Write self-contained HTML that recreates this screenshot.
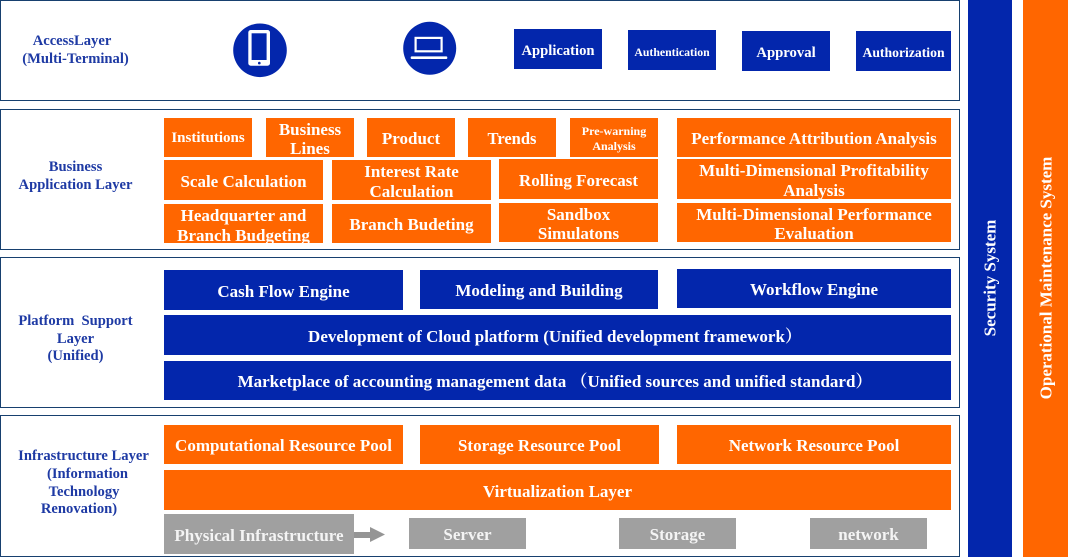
<!DOCTYPE html>
<html><head><meta charset="utf-8">
<style>
*{margin:0;padding:0;box-sizing:border-box}
html,body{width:1068px;height:558px;background:#fff;overflow:hidden}
body{position:relative;font-family:"Liberation Serif","Noto Serif CJK SC",serif;font-weight:bold}
.fr{position:absolute;border:1.6px solid #17406f;background:#fff}
.b{position:absolute;display:flex;align-items:center;justify-content:center;text-align:center;color:#fff;white-space:nowrap;padding-top:3px}
.o{background:#ff6600;font-size:17px;line-height:19.5px}
.bl{background:#0326ac;font-size:17px;line-height:20px}
.g{background:#a0a0a0;color:#f4f4f4;font-size:17px}
.t{position:absolute;white-space:nowrap;transform:translate(-50%,-50%);line-height:1;color:#1e3aa4;font-size:14.6px;padding-top:1px}
.v{position:absolute;white-space:nowrap;transform:translate(-50%,-50%) rotate(-90deg);line-height:1;color:#fff;font-size:17px}
</style></head>
<body>
<!-- side bars -->
<div style="position:absolute;left:968px;top:0;width:44px;height:557px;background:#0326ac"></div>
<div style="position:absolute;left:1023px;top:0;width:45px;height:557px;background:#ff6600"></div>
<div class="v" style="left:990px;top:278px">Security System</div>
<div class="v" style="left:1046px;top:278px">Operational Maintenance System</div>

<!-- frames -->
<div class="fr" style="left:0;top:0;width:960px;height:101px"></div>
<div class="fr" style="left:0;top:109px;width:960px;height:141px"></div>
<div class="fr" style="left:0;top:257px;width:960px;height:151px"></div>
<div class="fr" style="left:0;top:415px;width:960px;height:142px"></div>

<!-- Access layer -->
<div class="t" style="left:72px;top:41px">AccessLayer</div>
<div class="t" style="left:75.5px;top:59px">(Multi-Terminal)</div>
<svg style="position:absolute;left:0;top:0" width="960" height="100">
 <circle cx="260" cy="50.3" r="26.8" fill="#0326ac"/>
 <rect x="248.3" y="30" width="21.7" height="35.7" rx="2.5" fill="#fff"/>
 <rect x="251.6" y="33.3" width="15" height="26.7" fill="#0326ac"/>
 <circle cx="259.3" cy="63.1" r="1.3" fill="#0326ac"/>
 <circle cx="429.7" cy="48.3" r="26.5" fill="#0326ac"/>
 <rect x="415.6" y="37.9" width="26" height="13.4" fill="none" stroke="#fff" stroke-width="2.2"/>
 <rect x="410.7" y="56.4" width="36.6" height="2.6" rx="1" fill="#fff"/>
</svg>
<div class="b bl" style="left:514px;top:29px;width:88px;height:40px;font-size:14.6px">Application</div>
<div class="b bl" style="left:628px;top:30px;width:88px;height:40px;font-size:11.8px">Authentication</div>
<div class="b bl" style="left:742px;top:31px;width:88px;height:40px;font-size:14.7px">Approval</div>
<div class="b bl" style="left:856px;top:31px;width:95px;height:40px;font-size:13.7px">Authorization</div>

<!-- Business application layer -->
<div class="t" style="left:75.5px;top:167px">Business</div>
<div class="t" style="left:75.5px;top:185px">Application Layer</div>
<div class="b o" style="left:164px;top:118px;width:88px;height:39px;font-size:15px">Institutions</div>
<div class="b o" style="left:266px;top:118px;width:88px;height:39px">Business<br>Lines</div>
<div class="b o" style="left:367px;top:118px;width:88px;height:39px">Product</div>
<div class="b o" style="left:468px;top:118px;width:88px;height:39px;font-size:16.5px">Trends</div>
<div class="b o" style="left:570px;top:118px;width:88px;height:39px;font-size:12px;line-height:15px">Pre-warning<br>Analysis</div>
<div class="b o" style="left:677px;top:118px;width:274px;height:39px">Performance Attribution Analysis</div>

<div class="b o" style="left:164px;top:160px;width:159px;height:40px">Scale Calculation</div>
<div class="b o" style="left:332px;top:160px;width:159px;height:40px">Interest Rate<br>Calculation</div>
<div class="b o" style="left:499px;top:159px;width:159px;height:40px">Rolling Forecast</div>
<div class="b o" style="left:677px;top:159px;width:274px;height:40px">Multi-Dimensional Profitability<br>Analysis</div>

<div class="b o" style="left:164px;top:204px;width:159px;height:39px;overflow:hidden;align-items:flex-start;padding-top:2px">Headquarter and<br>Branch Budgeting</div>
<div class="b o" style="left:332px;top:204px;width:159px;height:39px">Branch Budeting</div>
<div class="b o" style="left:499px;top:203px;width:159px;height:39px">Sandbox<br>Simulatons</div>
<div class="b o" style="left:677px;top:203px;width:274px;height:39px">Multi-Dimensional Performance<br>Evaluation</div>

<!-- Platform support layer -->
<div class="t" style="left:75.5px;top:320.5px">Platform&nbsp; Support</div>
<div class="t" style="left:75.5px;top:338.5px">Layer</div>
<div class="t" style="left:75.5px;top:355.5px">(Unified)</div>
<div class="b bl" style="left:164px;top:270px;width:239px;height:40px">Cash Flow Engine</div>
<div class="b bl" style="left:420px;top:270px;width:238px;height:39px">Modeling and Building</div>
<div class="b bl" style="left:677px;top:269px;width:274px;height:39px">Workflow Engine</div>
<div class="b bl" style="left:164px;top:315px;width:787px;height:40px"><span style="margin-left:-5px">Development of Cloud platform (Unified development framework）</span></div>
<div class="b bl" style="left:164px;top:361px;width:787px;height:39px"><span style="margin-left:-5px">Marketplace of accounting management data （Unified sources and unified standard）</span></div>

<!-- Infrastructure layer -->
<div class="t" style="left:83.5px;top:456px">Infrastructure Layer</div>
<div class="t" style="left:87.5px;top:474px">(Information</div>
<div class="t" style="left:84px;top:491.5px">Technology</div>
<div class="t" style="left:79px;top:509px">Renovation)</div>
<div class="b o" style="left:164px;top:425px;width:239px;height:39px">Computational Resource Pool</div>
<div class="b o" style="left:420px;top:425px;width:239px;height:39px">Storage Resource Pool</div>
<div class="b o" style="left:677px;top:425px;width:274px;height:39px">Network Resource Pool</div>
<div class="b o" style="left:164px;top:470px;width:787px;height:40px">Virtualization Layer</div>
<div class="b g" style="left:164px;top:514px;width:190px;height:40px">Physical Infrastructure</div>
<svg style="position:absolute;left:350px;top:520px" width="40" height="30">
 <rect x="4" y="12" width="17" height="6" fill="#959595"/>
 <polygon points="20,7 35,14.5 20,22" fill="#959595"/>
</svg>
<div class="b g" style="left:409px;top:518px;width:117px;height:31px">Server</div>
<div class="b g" style="left:619px;top:518px;width:117px;height:31px">Storage</div>
<div class="b g" style="left:810px;top:518px;width:117px;height:31px">network</div>
</body></html>
